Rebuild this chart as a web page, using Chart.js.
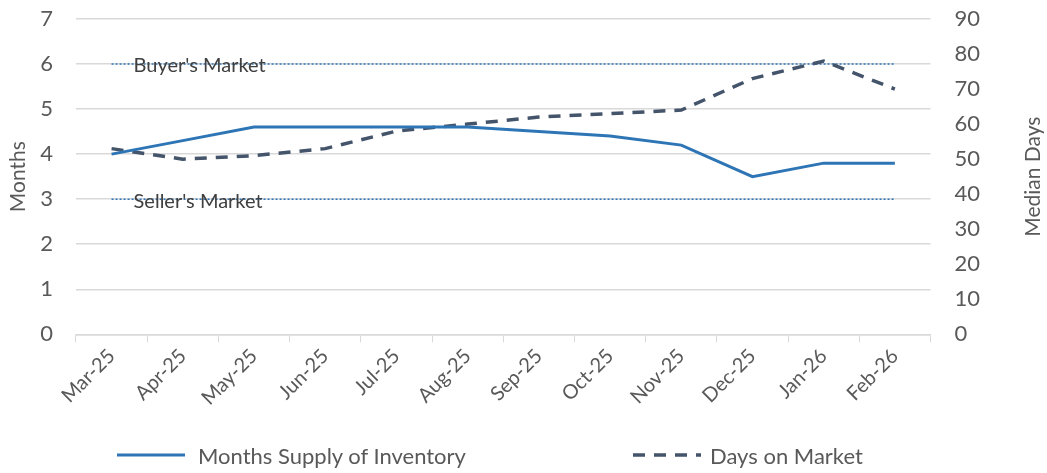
<!DOCTYPE html>
<html lang="en">
<head>
<meta charset="UTF-8">
<title>Months Supply of Inventory and Days on Market</title>
<script src="https://cdn.jsdelivr.net/npm/chart.js"></script>
<style>
  body { margin: 0; background: #fff; font-family: Lato, "Open Sans", sans-serif; }
  .wrap { position: relative; width: 1047px; height: 473px; }
  .legend { position: absolute; left: 0; top: 440px; width: 1047px; height: 30px; font-size: 22px; color: #595959; }
  .item { position: absolute; top: 0; height: 30px; display: flex; align-items: center; }
</style>
</head>
<body>
<div class="wrap">
  <canvas id="mercadoChart" width="1047" height="473"></canvas>
  <div class="legend">
    <div class="item" style="left:116px">
      <svg width="70" height="6" style="margin-right:12px"><line x1="1" y1="3" x2="69" y2="3" stroke="#2e75b6" stroke-width="3"/></svg>
      <span>Months Supply of Inventory</span>
    </div>
    <div class="item" style="left:632px">
      <svg width="70" height="6" style="margin-right:8px"><line x1="1" y1="3" x2="69" y2="3" stroke="#44546a" stroke-width="3.5" stroke-dasharray="12 9"/></svg>
      <span>Days on Market</span>
    </div>
  </div>
</div>

<script>
// meses
var meses = ['Mar-25', 'Apr-25', 'May-25', 'Jun-25', 'Jul-25', 'Aug-25',
             'Sep-25', 'Oct-25', 'Nov-25', 'Dec-25', 'Jan-26', 'Feb-26'];

// Months Supply of Inventory (eixo esquerdo)
var estoqueMeses = [4.0, 4.3, 4.6, 4.6, 4.6, 4.6, 4.5, 4.4, 4.2, 3.5, 3.8, 3.8];

// Days on Market (eixo direito)
var diasNoMercado = [53, 50, 51, 53, 58, 60, 62, 63, 64, 73, 78, 70];

// linhas de referencia
var linhaComprador = [6, 6, 6, 6, 6, 6, 6, 6, 6, 6, 6, 6];
var linhaVendedor = [3, 3, 3, 3, 3, 3, 3, 3, 3, 3, 3, 3];

var textoCinza = '#595959';
var fonte = 'Lato, "Open Sans", sans-serif';

// escreve os rotulos das linhas de referencia e o titulo do eixo direito
var rotulos = {
    id: 'rotulos',
    afterDatasetsDraw: function (chart) {
        var ctx = chart.ctx;
        var x = chart.scales.x;
        var y = chart.scales.y;
        ctx.save();
        ctx.font = '20px ' + fonte;
        ctx.fillStyle = '#404040';
        ctx.textBaseline = 'middle';
        ctx.textAlign = 'left';
        ctx.fillText("Buyer's Market", x.getPixelForValue(0) + 22, y.getPixelForValue(6) + 2);
        ctx.fillText("Seller's Market", x.getPixelForValue(0) + 22, y.getPixelForValue(3) + 2);

        var area = chart.chartArea;
        ctx.translate(1033, (area.top + area.bottom) / 2);
        ctx.rotate(-Math.PI / 2);
        ctx.font = '21px ' + fonte;
        ctx.fillStyle = textoCinza;
        ctx.textAlign = 'center';
        ctx.fillText('Median Days', 0, 0);
        ctx.restore();
    }
};

var ctx = document.getElementById('mercadoChart').getContext('2d');
var chart = new Chart(ctx, {
    type: 'line',
    data: {
        labels: meses,
        datasets: [{
            label: 'Months Supply of Inventory',
            data: estoqueMeses,
            yAxisID: 'y',
            borderColor: '#2e75b6',
            borderWidth: 3,
            pointRadius: 0,
            tension: 0,
            fill: false
        }, {
            label: 'Days on Market',
            data: diasNoMercado,
            yAxisID: 'y1',
            borderColor: '#44546a',
            borderWidth: 3.5,
            borderDash: [12, 9],
            pointRadius: 0,
            tension: 0,
            fill: false
        }, {
            label: "Buyer's Market",
            data: linhaComprador,
            yAxisID: 'y',
            borderColor: '#2e75b6',
            borderWidth: 1.5,
            borderDash: [2, 2],
            pointRadius: 0,
            fill: false
        }, {
            label: "Seller's Market",
            data: linhaVendedor,
            yAxisID: 'y',
            borderColor: '#2e75b6',
            borderWidth: 1.5,
            borderDash: [2, 2],
            pointRadius: 0,
            fill: false
        }]
    },
    options: {
        responsive: false,
        animation: false,
        layout: { padding: { top: 19, left: 6, right: 67, bottom: 61 } },
        plugins: {
            legend: { display: false },
            tooltip: { enabled: false }
        },
        scales: {
            x: {
                offset: true,
                grid: { drawOnChartArea: false, color: '#d9d9d9', tickLength: 8, offset: true },
                border: { color: '#d9d9d9', width: 1.5 },
                ticks: { color: textoCinza, font: { size: 20, family: fonte }, minRotation: 45, maxRotation: 45, padding: 2 }
            },
            y: {
                position: 'left',
                min: 0,
                max: 7,
                ticks: { stepSize: 1, color: textoCinza, font: { size: 22, family: fonte }, padding: 0 },
                grid: { color: '#d9d9d9', lineWidth: 1.5, drawTicks: true, tickLength: 23, tickColor: 'rgba(0,0,0,0)' },
                border: { display: false },
                title: { display: true, text: 'Months', color: textoCinza, font: { size: 21, family: fonte }, padding: { top: 0, bottom: 9 } }
            },
            y1: {
                position: 'right',
                min: 0,
                max: 90,
                ticks: { stepSize: 10, color: textoCinza, font: { size: 22, family: fonte }, padding: 0 },
                grid: { drawOnChartArea: false, drawTicks: true, tickLength: 24, tickColor: 'rgba(0,0,0,0)' },
                border: { display: false }
            }
        }
    },
    plugins: [rotulos]
});
</script>
</body>
</html>
